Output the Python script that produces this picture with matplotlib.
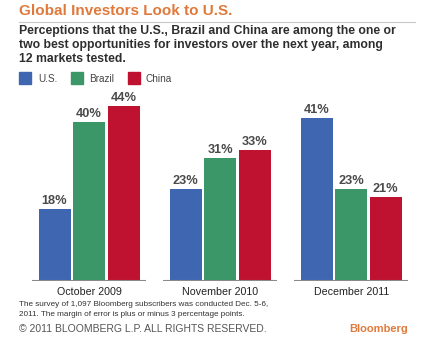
import matplotlib.pyplot as plt
import numpy as np

plt.rcParams['font.family'] = ['Liberation Sans', 'DejaVu Sans']

# data
periods = ['October 2009', 'November 2010', 'December 2011']
series = ['U.S.', 'Brazil', 'China']
us = [18, 23, 41]
brazil = [40, 31, 23]
china = [44, 33, 21]

colors = ['#3f67b1', '#3b9668', '#bf1130']
orange = '#e07a3c'
W, H = 439, 357

fig = plt.figure(figsize=(W / 100, H / 100), dpi=100)
fig.patch.set_facecolor('white')

# chart area (pixel-based placement)
ax = fig.add_axes([32 / W, 1 - 281 / H, (409 - 32) / W, (281 - 90) / H])
x = np.arange(len(periods))
width = 0.244
offset = 0.263
for i, (vals, c) in enumerate(zip([us, brazil, china], colors)):
    pos = x + (i - 1) * offset
    bars = ax.bar(pos, vals, width=width, color=c, zorder=2)
    for b, v in zip(bars, vals):
        ax.text(b.get_x() + b.get_width() / 2, v + 0.5, f'{v}%',
                ha='center', va='bottom', fontsize=9.2, fontweight='bold',
                color='#4a4a4a')

for xc in x:
    ax.hlines(0, xc - 0.435, xc + 0.435, color='#8a8a8a', lw=1.5, zorder=3)

ax.set_xlim(-0.435, 2.44)
ax.set_ylim(0, (281 - 90) / 3.98)
ax.axis('off')
for xc, lab in zip(x, periods):
    ax.text(xc, -2.75, lab, ha='center', va='center', fontsize=7.7,
            color='#222222')

# title and subtitle
fig.text(19 / W, 1 - 11 / H, 'Global Investors Look to U.S.', fontsize=11,
         fontweight='bold', color=orange, va='center', ha='left')
fig.add_artist(plt.Line2D([19 / W, 415 / W], [1 - 21.5 / H, 1 - 21.5 / H],
                          color='#c8c8c8', lw=0.8))
subtitle = ('Perceptions that the U.S., Brazil and China are among the one or\n'
            'two best opportunities for investors over the next year, among\n'
            '12 markets tested.')
fig.text(19 / W, 1 - 25 / H, subtitle, fontsize=8.8, fontweight='bold',
         color='#2e2e2e', va='top', ha='left', linespacing=1.2)

# legend
for (sx, tx), name, c in zip([(19, 38), (71, 89), (128, 146)], series, colors):
    fig.patches.append(plt.Rectangle((sx / W, 1 - 84 / H), 12 / W, 12 / H,
                                     transform=fig.transFigure, color=c))
    fig.text(tx / W, 1 - 78.5 / H, name, fontsize=7.2, color='#444444',
             va='center', ha='left')

# footer
fig.text(19 / W, 1 - 301.5 / H,
         'The survey of 1,097 Bloomberg subscribers was conducted Dec. 5-6,\n'
         '2011. The margin of error is plus or minus 3 percentage points.',
         fontsize=5.9, color='#333333', va='top', ha='left', linespacing=1.45)
fig.text(19 / W, 1 - 328.5 / H, '© 2011 BLOOMBERG L.P. ALL RIGHTS RESERVED.',
         fontsize=7.5, color='#555555', va='center', ha='left')
fig.text(408 / W, 1 - 328.5 / H, 'Bloomberg', fontsize=8, fontweight='bold',
         color=orange, va='center', ha='right')

fig.savefig('out.png', dpi=100)
